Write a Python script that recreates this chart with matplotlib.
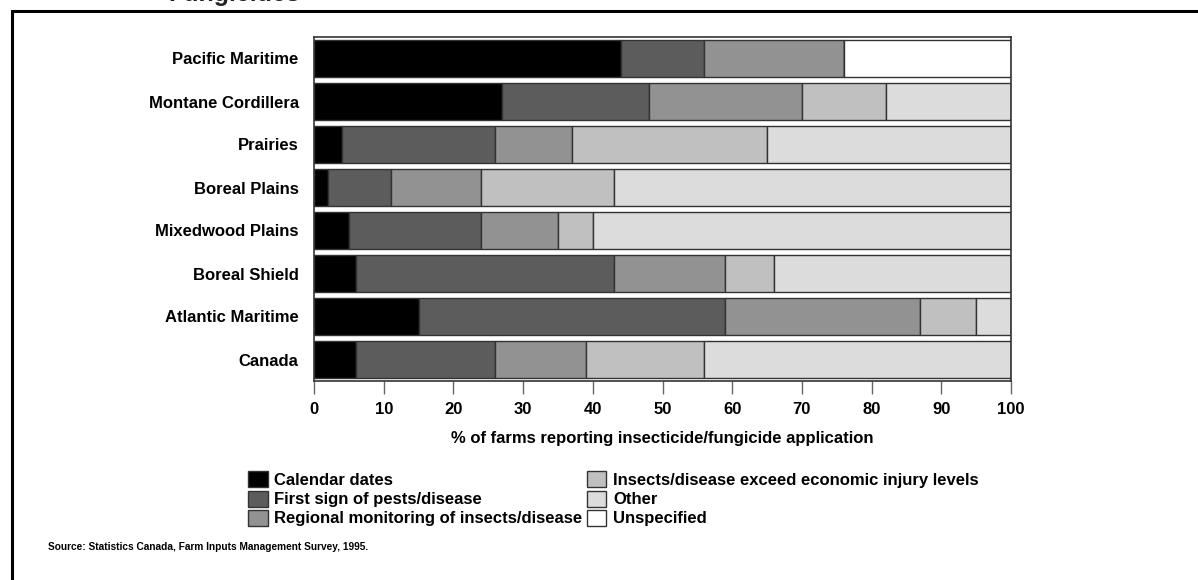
import matplotlib.pyplot as plt
import numpy as np
from matplotlib.patches import Patch, Rectangle

plt.rcParams['font.family'] = ['Liberation Sans', 'DejaVu Sans']
plt.rcParams['font.weight'] = 'bold'

regions = ["Pacific Maritime", "Montane Cordillera", "Prairies", "Boreal Plains",
           "Mixedwood Plains", "Boreal Shield", "Atlantic Maritime", "Canada"]

calendar    = [44, 27, 4, 2, 5, 6, 15, 6]
first_sign  = [12, 21, 22, 9, 19, 37, 44, 20]
regional    = [20, 22, 11, 13, 11, 16, 28, 13]
exceed      = [0, 12, 28, 19, 5, 7, 8, 17]
other       = [0, 18, 35, 57, 60, 34, 5, 44]
unspecified = [24, 0, 0, 0, 0, 0, 0, 0]

series = [
    ("Calendar dates", calendar, "#000000"),
    ("First sign of pests/disease", first_sign, "#5c5c5c"),
    ("Regional monitoring of insects/disease", regional, "#929292"),
    ("Insects/disease exceed economic injury levels", exceed, "#c0c0c0"),
    ("Other", other, "#dcdcdc"),
    ("Unspecified", unspecified, "#ffffff"),
]

fig = plt.figure(figsize=(11.98, 5.8), dpi=100)
ax = fig.add_axes([314/1198, 1 - 381/580, (1011 - 314)/1198, (381 - 37)/580])

y = np.arange(len(regions))
left = np.zeros(len(regions))
handles = []
for label, vals, color in series:
    vals = np.array(vals, dtype=float)
    ax.barh(y, vals, left=left, height=0.84, color=color,
            edgecolor="#333333", linewidth=1.0)
    left += vals
    handles.append(Patch(facecolor=color, edgecolor="#333333", linewidth=1.0, label=label))

ax.set_ylim(len(regions) - 0.5, -0.5)
ax.set_xlim(0, 100)
ax.set_xticks(np.arange(0, 101, 10))
ax.set_yticks(y)
ax.set_yticklabels(regions, fontsize=12, fontweight="bold")
ax.tick_params(axis="y", length=0, pad=11)
ax.tick_params(axis="x", length=9, width=1, color="#666666", labelsize=12, pad=6)
for t in ax.get_xticklabels():
    t.set_fontweight("bold")
for s in ax.spines.values():
    s.set_color("#333333")
    s.set_linewidth(1.2)
ax.set_xlabel("% of farms reporting insecticide/fungicide application",
              fontsize=12, fontweight="bold", labelpad=10)

fig.legend(handles=handles, ncol=2, loc="upper left",
           bbox_to_anchor=(240/1198, 1 - 463/580), frameon=False,
           handlelength=1.15, handleheight=1.1,
           handletextpad=0.4, labelspacing=0.15, columnspacing=0.3,
           borderpad=0, prop={"weight": "bold", "size": 12})

fig.text(48/1198, 1 - 547/580, "Source: Statistics Canada, Farm Inputs Management Survey, 1995.",
         fontsize=7.3, fontweight="bold", va="center")

# title cut off at the top of the frame
fig.text(168/1198, 1 - 1.5/580, "Fungicides", fontsize=18, fontweight="bold",
         va="baseline", color="#222222")

fig.add_artist(Rectangle((12/1198, -0.5), 2, 0.5 + 1 - 11/580,
                         transform=fig.transFigure, fill=False,
                         edgecolor="black", linewidth=2.2))

plt.savefig("out.png", dpi=100)
